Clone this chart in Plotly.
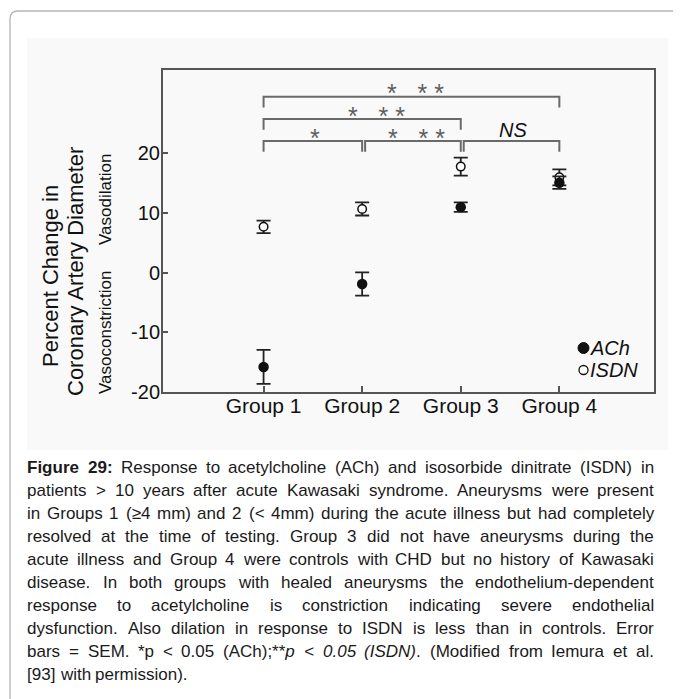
import html
import plotly.graph_objects as go

# ---------------- data ----------------
groups = ["Group 1", "Group 2", "Group 3", "Group 4"]
group_pos = [1, 2, 3, 4]
ach_mean = [-15.8, -1.9, 11.0, 15.1]
ach_sem = [2.85, 1.95, 0.8, 1.05]
isdn_mean = [7.7, 10.7, 17.8, 16.0]
isdn_sem = [1.05, 1.1, 1.5, 1.35]
y_ticks = [-20, -10, 0, 10, 20]
y_ticktext = ["-20", "-10", "0", "10", "20"]

# significance brackets
bracket_from = [1, 1, 1, 2, 3]
bracket_to = [4, 3, 2, 3, 4]
bracket_level = [29.5, 25.8, 22.1, 22.1, 22.1]
bracket_labels = ["*\u00a0\u00a0\u00a0*\u00a0*", "*\u00a0\u00a0\u00a0*\u00a0*", "*",
                  "*\u00a0\u00a0\u00a0*\u00a0*", "NS"]
label_x = [2.545, 2.15, 1.52, 2.555, 3.53]
label_y = [31.2, 27.3, 23.65, 23.65, 23.94]

caption_lines = [
    "Figure 29: Response to acetylcholine (ACh) and isosorbide dinitrate (ISDN) in",
    "patients > 10 years after acute Kawasaki syndrome. Aneurysms were present",
    "in Groups 1 (\u22654 mm) and 2 (< 4mm) during the acute illness but had completely",
    "resolved at the time of testing. Group 3 did not have aneurysms during the",
    "acute illness and Group 4 were controls with CHD but no history of Kawasaki",
    "disease. In both groups with healed aneurysms the endothelium-dependent",
    "response to acetylcholine is constriction indicating severe endothelial",
    "dysfunction. Also dilation in response to ISDN is less than in controls. Error",
    "bars = SEM. *p < 0.05 (ACh);**p < 0.05 (ISDN). (Modified from Iemura et al.",
    "[93] with permission).",
]

# ---------------- geometry helpers (page pixels -> paper) ----------------
OFF = 8  # default body margin of the html page
W_FIG, H_FIG = 681 - OFF, 699 - OFF
L, R, T, B = 163 - OFF, 654 - OFF, 70 - OFF, 392 - OFF
PW, PH = R - L, B - T


def px(X):
    return (X - OFF - L) / PW


def py(Y):
    return (B - (Y - OFF)) / PH


FONT = "Liberation Sans, Arial, Helvetica, sans-serif"

# Helvetica/Arial advance widths (per 1000 em)
CW = {' ': 278, '!': 278, '"': 355, '#': 556, '$': 556, '%': 889, '&': 667, "'": 191,
      '(': 333, ')': 333, '*': 389, '+': 584, ',': 278, '-': 333, '.': 278, '/': 278,
      ':': 278, ';': 278, '<': 584, '=': 584, '>': 584, '?': 556, '@': 1015,
      '[': 278, '\\': 278, ']': 278, '\u2265': 549}
for d in "0123456789":
    CW[d] = 556
for c, w in zip("ABCDEFGHIJKLMNOPQRSTUVWXYZ",
                [667, 667, 722, 722, 667, 611, 778, 722, 278, 500, 667, 556, 833, 722,
                 778, 667, 778, 722, 667, 611, 722, 667, 944, 667, 667, 611]):
    CW[c] = w
for c, w in zip("abcdefghijklmnopqrstuvwxyz",
                [556, 556, 500, 556, 556, 278, 556, 556, 222, 222, 500, 222, 833, 556,
                 556, 556, 556, 333, 500, 278, 556, 500, 722, 500, 500, 500]):
    CW[c] = w
CWB = dict(CW)
CWB.update({'F': 611, 'i': 278, 'g': 611, 'u': 611, 'r': 389, 'e': 556, ':': 333})


def segments(li, wi, word):
    if li == 0 and wi in (0, 1):
        return [(word, 'b')]
    if li == 8:
        if wi == 6:
            return [("(ACh);**", ''), ("p", 'i')]
        if wi in (7, 8):
            return [(word, 'i')]
        if wi == 9:
            return [("(ISDN)", 'i'), (".", '')]
    return [(word, '')]


def seg_width(segs, size):
    tot = 0
    for s, st in segs:
        table = CWB if st == 'b' else CW
        tot += sum(table.get(ch, 556) for ch in s)
    return tot / 1000.0 * size


def seg_html(segs):
    out = ""
    for s, st in segs:
        e = html.escape(s, quote=False)
        if st == 'b':
            e = "<b>" + e + "</b>"
        elif st == 'i':
            e = "<i>" + e + "</i>"
        out += e
    return out


fig = go.Figure()

fig.add_trace(go.Scatter(
    x=group_pos, y=isdn_mean, mode="markers", name="ISDN",
    marker=dict(symbol="circle", size=8.5, color="white",
                line=dict(color="#111", width=1.5)),
    error_y=dict(type="data", array=isdn_sem, color="#222", thickness=1.8, width=7),
))
fig.add_trace(go.Scatter(
    x=group_pos, y=ach_mean, mode="markers", name="ACh",
    marker=dict(symbol="circle", size=10.5, color="#111"),
    error_y=dict(type="data", array=ach_sem, color="#222", thickness=1.8, width=7),
))

shapes = []
# grey figure area and outer page frame
shapes.append(dict(type="rect", xref="paper", yref="paper", layer="below",
                   x0=px(27), x1=px(668), y0=py(450), y1=py(38),
                   fillcolor="#f9f9f9", line=dict(width=0)))
path = "M {a},{b} L {c},{b} Q {d},{b} {d},{e} L {d},{f}".format(
    a=px(690), b=py(11), c=px(18), d=px(10), e=py(19), f=py(710))
shapes.append(dict(type="path", xref="paper", yref="paper", path=path,
                   line=dict(color="#b5b5b5", width=1.3)))

# brackets
LEG = 1.8
GAP = 0.03
for i, (a, b_, lv) in enumerate(zip(bracket_from, bracket_to, bracket_level)):
    x0 = a
    for j in range(len(bracket_to)):
        if j != i and bracket_level[j] == lv and bracket_to[j] == a:
            x0 = a + GAP
    p = "M {x0},{y0} L {x0},{y1} L {x1},{y1} L {x1},{y0}".format(
        x0=x0, x1=b_, y0=lv - LEG, y1=lv)
    shapes.append(dict(type="path", xref="x", yref="y", path=p,
                       line=dict(color="#6a6a6a", width=2)))

# legend symbols
shapes.append(dict(type="circle", xref="paper", yref="paper",
                   x0=px(578), x1=px(589), y0=py(353.5), y1=py(342.5),
                   fillcolor="#111", line=dict(color="#111", width=1)))
shapes.append(dict(type="circle", xref="paper", yref="paper",
                   x0=px(579), x1=px(588), y0=py(374.5), y1=py(365.5),
                   fillcolor="white", line=dict(color="#111", width=1.3)))

ann = []
for txt, xx, yy in zip(bracket_labels, label_x, label_y):
    if txt == "NS":
        ann.append(dict(x=xx, y=yy, xref="x", yref="y", text="<i>NS</i>",
                        xanchor="center", yanchor="middle",
                        showarrow=False, font=dict(family=FONT, size=20, color="#111")))
    else:
        ann.append(dict(x=xx, y=yy, xref="x", yref="y", text=txt, yshift=-6,
                        xanchor="center", yanchor="middle",
                        showarrow=False, font=dict(family=FONT, size=25, color="#5e5e5e")))


def paper_text(X, Y, text, size, angle=0, xanchor="center"):
    return dict(x=px(X), y=py(Y), xref="paper", yref="paper", text=text,
                textangle=angle, xanchor=xanchor, yanchor="middle",
                showarrow=False, borderpad=0, borderwidth=0,
                font=dict(family=FONT, size=size, color="#111"))


# legend texts
ann.append(paper_text(590, 348, "<i>ACh</i>", 20, xanchor="left"))
ann.append(paper_text(590, 370, "<i>ISDN</i>", 20, xanchor="left"))

# y-axis titles
ann.append(paper_text(50, 276, "Percent Change in", 22, -90))
ann.append(paper_text(75, 272, "Coronary Artery Diameter", 22, -90))
ann.append(paper_text(105, 200, "Vasodilation", 17, -90))
ann.append(paper_text(105, 333, "Vasoconstriction", 17, -90))

# caption, justified word by word
CAP_SIZE = 17
CAP_LEFT, CAP_RIGHT = 27, 654
CAP_Y0, CAP_DY = 467, 23
for li, line in enumerate(caption_lines):
    words = line.split(" ")
    segs = [segments(li, wi, w) for wi, w in enumerate(words)]
    widths = [seg_width(s, CAP_SIZE) for s in segs]
    last = li == len(caption_lines) - 1
    if last or len(words) < 2:
        gap = CW[' '] / 1000.0 * CAP_SIZE
    else:
        gap = (CAP_RIGHT - CAP_LEFT - sum(widths)) / (len(words) - 1)
    X = CAP_LEFT
    Y = CAP_Y0 + li * CAP_DY
    for s, w in zip(segs, widths):
        a = paper_text(X, Y, seg_html(s), CAP_SIZE, xanchor="left")
        a["font"]["color"] = "#1a1a1a"
        ann.append(a)
        X += w + gap

fig.update_layout(
    width=W_FIG, height=H_FIG,
    margin=dict(l=L, r=W_FIG - R, t=T, b=H_FIG - B, autoexpand=False),
    paper_bgcolor="white", plot_bgcolor="rgba(0,0,0,0)",
    showlegend=False,
    shapes=shapes, annotations=ann,
    font=dict(family=FONT, color="#111"),
)
fig.update_xaxes(range=[-0.02, 4.96], tickmode="array", tickvals=group_pos, ticktext=groups,
                 ticks="inside", ticklen=6, tickwidth=1.5, tickcolor="#555",
                 showline=True, linecolor="#555", linewidth=2, mirror=True,
                 showgrid=False, zeroline=False, ticklabelstandoff=-6,
                 tickfont=dict(family=FONT, size=21, color="#111"))
fig.update_yaxes(range=[-20, 34], tickmode="array", tickvals=y_ticks, ticktext=y_ticktext,
                 ticks="inside", ticklen=5, tickwidth=1.5, tickcolor="#555",
                 showline=True, linecolor="#555", linewidth=2, mirror=True,
                 showgrid=False, zeroline=False, ticklabelstandoff=-3,
                 tickfont=dict(family=FONT, size=20, color="#111"))

fig.write_html("out.html")
